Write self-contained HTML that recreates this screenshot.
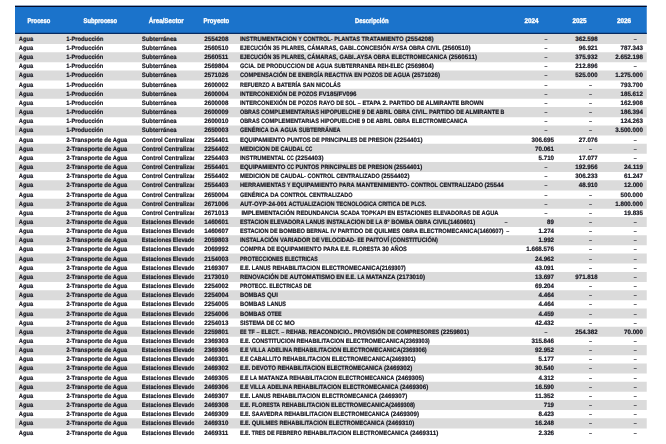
<!DOCTYPE html><html lang="es"><head><meta charset="utf-8"><title>Tabla</title><style>
html,body{margin:0;padding:0;background:#fff;}
body{width:666px;height:444px;position:relative;overflow:hidden;}
#g{position:absolute;left:0;top:0;width:666px;height:444px;overflow:hidden;background:#fff;filter:saturate(.5);}
.t{position:absolute;left:0;top:0;width:2664px;height:1776px;transform:scale(0.25);transform-origin:0 0;font-family:"Liberation Sans",sans-serif;font-weight:bold;font-size:25.2px;color:#121226;text-rendering:geometricPrecision;}
.hd{z-index:2;position:absolute;left:60px;top:23.2px;width:2527.2px;height:113.2px;background:#1b73cb;box-sizing:border-box;border-top:5.2px solid #020a28;border-bottom:5.2px solid #062a60;}
.h{position:absolute;top:0;height:100%;color:#fff;text-align:center;line-height:110.4px;white-space:nowrap;font-size:27.6px;}
.b{position:absolute;left:60px;width:2527.2px;height:40.22px;background:#dbdbdb;}
.r{position:absolute;left:60px;width:2527.2px;height:36.62px;}
.c{word-spacing:-0.88px;position:absolute;top:0;height:36.62px;line-height:36.62px;white-space:nowrap;overflow:hidden;}
.w{text-align:left;-webkit-text-stroke:0.68px;display:inline-block;white-space:pre;transform-origin:0 50%;position:relative;top:-0.2px;}
.h .w{top:0.8px;-webkit-text-stroke:1.4px;}
.w.ds{color:#3a3a46;-webkit-text-stroke:0.48px;}
.n{text-align:right;}
.m{text-align:center;}
.ov{overflow:visible;}
</style></head><body><div id="g"><div class="t">
<div class="b" style="top:135.4px"></div>
<div class="b" style="top:208.64px"></div>
<div class="b" style="top:281.88px"></div>
<div class="b" style="top:355.12px"></div>
<div class="b" style="top:428.36px"></div>
<div class="b" style="top:501.6px"></div>
<div class="b" style="top:574.84px"></div>
<div class="b" style="top:648.08px"></div>
<div class="b" style="top:721.32px"></div>
<div class="b" style="top:794.56px"></div>
<div class="b" style="top:867.8px"></div>
<div class="b" style="top:941.04px"></div>
<div class="b" style="top:1014.28px"></div>
<div class="b" style="top:1087.52px"></div>
<div class="b" style="top:1160.76px"></div>
<div class="b" style="top:1234px"></div>
<div class="b" style="top:1307.24px"></div>
<div class="b" style="top:1380.48px"></div>
<div class="b" style="top:1453.72px"></div>
<div class="b" style="top:1526.96px"></div>
<div class="b" style="top:1600.2px"></div>
<div class="b" style="top:1673.44px"></div>
<div class="r" style="top:137.2px">
<div class="c" style="left:14.8px;width:175.6px"><span class="w" style="width:57.3px;transform:scaleX(0.909)">Agua</span></div>
<div class="c" style="left:205.2px;width:286.8px"><span class="w" style="width:148.3px;transform:scaleX(0.921)">1-Producción</span></div>
<div class="c" style="left:506.8px;width:210px"><span class="w" style="width:139.3px;transform:scaleX(0.947)">Subterránea</span></div>
<div class="c m" style="left:718px;width:174px"><span class="w" style="width:96.2px;transform:scaleX(0.982)">2554208</span></div>
<div class="c ov" style="left:900px;width:1061.2px"><span class="w" style="width:226.8px;transform:scaleX(0.928)">INSTRUMENTACION</span> <span class="w" style="width:14.1px;transform:scaleX(0.839)">Y</span> <span class="w" style="width:117.3px;transform:scaleX(0.883)">CONTROL-</span> <span class="w" style="width:102.9px;transform:scaleX(0.878)">PLANTAS</span> <span class="w" style="width:168.8px;transform:scaleX(0.942)">TRATAMIENTO</span> <span class="w" style="width:113.2px;transform:scaleX(0.985)">(2554208)</span></div>
<div class="c n" style="left:1961.2px;width:169.4px"><span class="w ds" style="width:14px;transform:scaleX(1.659)">-</span></div>
<div class="c n" style="left:2171.6px;width:159.2px"><span class="w" style="width:89.7px;transform:scaleX(0.985)">362.598</span></div>
<div class="c n" style="left:2345.2px;width:142.6px"><span class="w ds" style="width:14px;transform:scaleX(1.659)">-</span></div>
</div>
<div class="r" style="top:173.82px">
<div class="c" style="left:14.8px;width:175.6px"><span class="w" style="width:57.3px;transform:scaleX(0.909)">Agua</span></div>
<div class="c" style="left:205.2px;width:286.8px"><span class="w" style="width:148.3px;transform:scaleX(0.921)">1-Producción</span></div>
<div class="c" style="left:506.8px;width:210px"><span class="w" style="width:139.3px;transform:scaleX(0.947)">Subterránea</span></div>
<div class="c m" style="left:718px;width:174px"><span class="w" style="width:96.2px;transform:scaleX(0.982)">2560510</span></div>
<div class="c ov" style="left:900px;width:1061.2px"><span class="w" style="width:125.3px;transform:scaleX(0.852)">EJECUCIÓN</span> <span class="w" style="width:27.5px;transform:scaleX(0.980)">35</span> <span class="w" style="width:97.9px;transform:scaleX(0.843)">PILARES,</span> <span class="w" style="width:122.4px;transform:scaleX(0.902)">CÁMARAS,</span> <span class="w" style="width:205.1px;transform:scaleX(0.893)">GABI..CONCESIÓN</span> <span class="w" style="width:59.8px;transform:scaleX(0.883)">AYSA</span> <span class="w" style="width:65.3px;transform:scaleX(0.880)">OBRA</span> <span class="w" style="width:56.3px;transform:scaleX(0.875)">CIVIL</span> <span class="w" style="width:113.2px;transform:scaleX(0.985)">(2560510)</span></div>
<div class="c n" style="left:1961.2px;width:169.4px"><span class="w ds" style="width:14px;transform:scaleX(1.659)">-</span></div>
<div class="c n" style="left:2171.6px;width:159.2px"><span class="w" style="width:76px;transform:scaleX(0.986)">96.921</span></div>
<div class="c n" style="left:2345.2px;width:166.8px"><span class="w" style="width:89.7px;transform:scaleX(0.985)">787.343</span></div>
</div>
<div class="r" style="top:210.44px">
<div class="c" style="left:14.8px;width:175.6px"><span class="w" style="width:57.3px;transform:scaleX(0.909)">Agua</span></div>
<div class="c" style="left:205.2px;width:286.8px"><span class="w" style="width:148.3px;transform:scaleX(0.921)">1-Producción</span></div>
<div class="c" style="left:506.8px;width:210px"><span class="w" style="width:139.3px;transform:scaleX(0.947)">Subterránea</span></div>
<div class="c m" style="left:718px;width:174px"><span class="w" style="width:96.2px;transform:scaleX(0.995)">2560511</span></div>
<div class="c ov" style="left:900px;width:1061.2px"><span class="w" style="width:125.3px;transform:scaleX(0.852)">EJECUCIÓN</span> <span class="w" style="width:27.5px;transform:scaleX(0.980)">35</span> <span class="w" style="width:97.9px;transform:scaleX(0.843)">PILARES,</span> <span class="w" style="width:122.4px;transform:scaleX(0.902)">CÁMARAS,</span> <span class="w" style="width:130.4px;transform:scaleX(0.902)">GABI..AYSA</span> <span class="w" style="width:65.3px;transform:scaleX(0.880)">OBRA</span> <span class="w" style="width:222.9px;transform:scaleX(0.870)">ELECTROMECANICA</span> <span class="w" style="width:113.2px;transform:scaleX(0.997)">(2560511)</span></div>
<div class="c n" style="left:1961.2px;width:169.4px"><span class="w ds" style="width:14px;transform:scaleX(1.659)">-</span></div>
<div class="c n" style="left:2171.6px;width:159.2px"><span class="w" style="width:89.7px;transform:scaleX(0.985)">375.932</span></div>
<div class="c n" style="left:2345.2px;width:166.8px"><span class="w" style="width:110.7px;transform:scaleX(0.988)">2.652.198</span></div>
</div>
<div class="r" style="top:247.06px">
<div class="c" style="left:14.8px;width:175.6px"><span class="w" style="width:57.3px;transform:scaleX(0.909)">Agua</span></div>
<div class="c" style="left:205.2px;width:286.8px"><span class="w" style="width:148.3px;transform:scaleX(0.921)">1-Producción</span></div>
<div class="c" style="left:506.8px;width:210px"><span class="w" style="width:139.3px;transform:scaleX(0.947)">Subterránea</span></div>
<div class="c m" style="left:718px;width:174px"><span class="w" style="width:96.2px;transform:scaleX(0.982)">2569804</span></div>
<div class="c ov" style="left:900px;width:1061.2px"><span class="w" style="width:62.5px;transform:scaleX(0.893)">GCIA.</span> <span class="w" style="width:30.3px;transform:scaleX(0.866)">DE</span> <span class="w" style="width:155px;transform:scaleX(0.900)">PRODUCCION</span> <span class="w" style="width:30.3px;transform:scaleX(0.866)">DE</span> <span class="w" style="width:67.9px;transform:scaleX(0.915)">AGUA</span> <span class="w" style="width:166.9px;transform:scaleX(0.864)">SUBTERRANEA</span> <span class="w" style="width:106.2px;transform:scaleX(0.825)">REH-ELEC</span> <span class="w" style="width:113.2px;transform:scaleX(0.985)">(2569804)</span></div>
<div class="c n" style="left:1961.2px;width:169.4px"><span class="w ds" style="width:14px;transform:scaleX(1.659)">-</span></div>
<div class="c n" style="left:2171.6px;width:159.2px"><span class="w" style="width:89.7px;transform:scaleX(0.985)">212.896</span></div>
<div class="c n" style="left:2345.2px;width:142.6px"><span class="w ds" style="width:14px;transform:scaleX(1.659)">-</span></div>
</div>
<div class="r" style="top:283.68px">
<div class="c" style="left:14.8px;width:175.6px"><span class="w" style="width:57.3px;transform:scaleX(0.909)">Agua</span></div>
<div class="c" style="left:205.2px;width:286.8px"><span class="w" style="width:148.3px;transform:scaleX(0.921)">1-Producción</span></div>
<div class="c" style="left:506.8px;width:210px"><span class="w" style="width:139.3px;transform:scaleX(0.947)">Subterránea</span></div>
<div class="c m" style="left:718px;width:174px"><span class="w" style="width:96.2px;transform:scaleX(0.982)">2571026</span></div>
<div class="c ov" style="left:900px;width:1061.2px"><span class="w" style="width:189px;transform:scaleX(0.906)">COMPENSACIÓN</span> <span class="w" style="width:30.3px;transform:scaleX(0.866)">DE</span> <span class="w" style="width:100.6px;transform:scaleX(0.876)">ENERGÍA</span> <span class="w" style="width:112.4px;transform:scaleX(0.886)">REACTIVA</span> <span class="w" style="width:31.1px;transform:scaleX(0.889)">EN</span> <span class="w" style="width:76.9px;transform:scaleX(0.872)">POZOS</span> <span class="w" style="width:30.3px;transform:scaleX(0.866)">DE</span> <span class="w" style="width:67.9px;transform:scaleX(0.915)">AGUA</span> <span class="w" style="width:113.2px;transform:scaleX(0.985)">(2571026)</span></div>
<div class="c n" style="left:1961.2px;width:169.4px"><span class="w ds" style="width:14px;transform:scaleX(1.659)">-</span></div>
<div class="c n" style="left:2171.6px;width:159.2px"><span class="w" style="width:89.7px;transform:scaleX(0.985)">525.000</span></div>
<div class="c n" style="left:2345.2px;width:166.8px"><span class="w" style="width:110.7px;transform:scaleX(0.988)">1.275.000</span></div>
</div>
<div class="r" style="top:320.3px">
<div class="c" style="left:14.8px;width:175.6px"><span class="w" style="width:57.3px;transform:scaleX(0.909)">Agua</span></div>
<div class="c" style="left:205.2px;width:286.8px"><span class="w" style="width:148.3px;transform:scaleX(0.921)">1-Producción</span></div>
<div class="c" style="left:506.8px;width:210px"><span class="w" style="width:139.3px;transform:scaleX(0.947)">Subterránea</span></div>
<div class="c m" style="left:718px;width:174px"><span class="w" style="width:96.2px;transform:scaleX(0.982)">2600002</span></div>
<div class="c ov" style="left:900px;width:1061.2px"><span class="w" style="width:118.5px;transform:scaleX(0.855)">REFUERZO</span> <span class="w" style="width:16.4px;transform:scaleX(0.901)">A</span> <span class="w" style="width:97.3px;transform:scaleX(0.883)">BATERÍA</span> <span class="w" style="width:47.1px;transform:scaleX(0.886)">SAN</span> <span class="w" style="width:98.5px;transform:scaleX(0.869)">NICOLÁS</span></div>
<div class="c n" style="left:1961.2px;width:169.4px"><span class="w ds" style="width:14px;transform:scaleX(1.659)">-</span></div>
<div class="c n" style="left:2171.6px;width:137.8px"><span class="w ds" style="width:14px;transform:scaleX(1.659)">-</span></div>
<div class="c n" style="left:2345.2px;width:166.8px"><span class="w" style="width:89.7px;transform:scaleX(0.985)">793.700</span></div>
</div>
<div class="r" style="top:356.92px">
<div class="c" style="left:14.8px;width:175.6px"><span class="w" style="width:57.3px;transform:scaleX(0.909)">Agua</span></div>
<div class="c" style="left:205.2px;width:286.8px"><span class="w" style="width:148.3px;transform:scaleX(0.921)">1-Producción</span></div>
<div class="c" style="left:506.8px;width:210px"><span class="w" style="width:139.3px;transform:scaleX(0.947)">Subterránea</span></div>
<div class="c m" style="left:718px;width:174px"><span class="w" style="width:96.2px;transform:scaleX(0.982)">2600004</span></div>
<div class="c ov" style="left:900px;width:1061.2px"><span class="w" style="width:189.2px;transform:scaleX(0.901)">INTERCONEXIÓN</span> <span class="w" style="width:30.3px;transform:scaleX(0.866)">DE</span> <span class="w" style="width:76.9px;transform:scaleX(0.872)">POZOS</span> <span class="w" style="width:151.1px;transform:scaleX(0.972)">FV185/FV096</span></div>
<div class="c n" style="left:1961.2px;width:169.4px"><span class="w ds" style="width:14px;transform:scaleX(1.659)">-</span></div>
<div class="c n" style="left:2171.6px;width:137.8px"><span class="w ds" style="width:14px;transform:scaleX(1.659)">-</span></div>
<div class="c n" style="left:2345.2px;width:166.8px"><span class="w" style="width:89.7px;transform:scaleX(0.985)">185.612</span></div>
</div>
<div class="r" style="top:393.54px">
<div class="c" style="left:14.8px;width:175.6px"><span class="w" style="width:57.3px;transform:scaleX(0.909)">Agua</span></div>
<div class="c" style="left:205.2px;width:286.8px"><span class="w" style="width:148.3px;transform:scaleX(0.921)">1-Producción</span></div>
<div class="c" style="left:506.8px;width:210px"><span class="w" style="width:139.3px;transform:scaleX(0.947)">Subterránea</span></div>
<div class="c m" style="left:718px;width:174px"><span class="w" style="width:96.2px;transform:scaleX(0.982)">2600008</span></div>
<div class="c ov" style="left:900px;width:1061.2px"><span class="w" style="width:189.2px;transform:scaleX(0.901)">INTERCONEXIÓN</span> <span class="w" style="width:30.3px;transform:scaleX(0.866)">DE</span> <span class="w" style="width:76.9px;transform:scaleX(0.872)">POZOS</span> <span class="w" style="width:64.1px;transform:scaleX(0.910)">RAYO</span> <span class="w" style="width:30.3px;transform:scaleX(0.866)">DE</span> <span class="w" style="width:42.6px;transform:scaleX(0.823)">SOL</span> <span class="w ds" style="width:14px;transform:scaleX(1.659)">-</span> <span class="w" style="width:74px;transform:scaleX(0.906)">ETAPA</span> <span class="w" style="width:21px;transform:scaleX(0.997)">2.</span> <span class="w" style="width:102.2px;transform:scaleX(0.917)">PARTIDO</span> <span class="w" style="width:30.3px;transform:scaleX(0.866)">DE</span> <span class="w" style="width:135.1px;transform:scaleX(0.911)">ALMIRANTE</span> <span class="w" style="width:91.3px;transform:scaleX(0.932)">BROWN</span></div>
<div class="c n" style="left:1961.2px;width:169.4px"><span class="w ds" style="width:14px;transform:scaleX(1.659)">-</span></div>
<div class="c n" style="left:2171.6px;width:137.8px"><span class="w ds" style="width:14px;transform:scaleX(1.659)">-</span></div>
<div class="c n" style="left:2345.2px;width:166.8px"><span class="w" style="width:89.7px;transform:scaleX(0.985)">162.908</span></div>
</div>
<div class="r" style="top:430.16px">
<div class="c" style="left:14.8px;width:175.6px"><span class="w" style="width:57.3px;transform:scaleX(0.909)">Agua</span></div>
<div class="c" style="left:205.2px;width:286.8px"><span class="w" style="width:148.3px;transform:scaleX(0.921)">1-Producción</span></div>
<div class="c" style="left:506.8px;width:210px"><span class="w" style="width:139.3px;transform:scaleX(0.947)">Subterránea</span></div>
<div class="c m" style="left:718px;width:174px"><span class="w" style="width:96.2px;transform:scaleX(0.982)">2600009</span></div>
<div class="c ov" style="left:900px;width:1061.2px"><span class="w" style="width:78.1px;transform:scaleX(0.858)">OBRAS</span> <span class="w" style="width:232px;transform:scaleX(0.907)">COMPLEMENTARIAS</span> <span class="w" style="width:158.7px;transform:scaleX(0.872)">HIPOPUELCHE</span> <span class="w" style="width:13.7px;transform:scaleX(0.978)">9</span> <span class="w" style="width:30.3px;transform:scaleX(0.866)">DE</span> <span class="w" style="width:65.6px;transform:scaleX(0.852)">ABRIL</span> <span class="w" style="width:65.3px;transform:scaleX(0.880)">OBRA</span> <span class="w" style="width:63.6px;transform:scaleX(0.891)">CIVIL.</span> <span class="w" style="width:102.2px;transform:scaleX(0.917)">PARTIDO</span> <span class="w" style="width:30.3px;transform:scaleX(0.866)">DE</span> <span class="w" style="width:135.1px;transform:scaleX(0.911)">ALMIRANTE</span> <span class="w" style="width:15.2px;transform:scaleX(0.834)">B</span></div>
<div class="c n" style="left:1961.2px;width:169.4px"><span class="w ds" style="width:14px;transform:scaleX(1.659)">-</span></div>
<div class="c n" style="left:2171.6px;width:137.8px"><span class="w ds" style="width:14px;transform:scaleX(1.659)">-</span></div>
<div class="c n" style="left:2345.2px;width:166.8px"><span class="w" style="width:89.7px;transform:scaleX(0.985)">186.394</span></div>
</div>
<div class="r" style="top:466.78px">
<div class="c" style="left:14.8px;width:175.6px"><span class="w" style="width:57.3px;transform:scaleX(0.909)">Agua</span></div>
<div class="c" style="left:205.2px;width:286.8px"><span class="w" style="width:148.3px;transform:scaleX(0.921)">1-Producción</span></div>
<div class="c" style="left:506.8px;width:210px"><span class="w" style="width:139.3px;transform:scaleX(0.947)">Subterránea</span></div>
<div class="c m" style="left:718px;width:174px"><span class="w" style="width:96.2px;transform:scaleX(0.982)">2600010</span></div>
<div class="c ov" style="left:900px;width:1061.2px"><span class="w" style="width:78.1px;transform:scaleX(0.858)">OBRAS</span> <span class="w" style="width:232px;transform:scaleX(0.907)">COMPLEMENTARIAS</span> <span class="w" style="width:158.7px;transform:scaleX(0.872)">HIPOPUELCHE</span> <span class="w" style="width:13.7px;transform:scaleX(0.978)">9</span> <span class="w" style="width:30.3px;transform:scaleX(0.866)">DE</span> <span class="w" style="width:65.6px;transform:scaleX(0.852)">ABRIL</span> <span class="w" style="width:65.3px;transform:scaleX(0.880)">OBRA</span> <span class="w" style="width:222.9px;transform:scaleX(0.870)">ELECTROMECANICA</span></div>
<div class="c n" style="left:1961.2px;width:169.4px"><span class="w ds" style="width:14px;transform:scaleX(1.659)">-</span></div>
<div class="c n" style="left:2171.6px;width:137.8px"><span class="w ds" style="width:14px;transform:scaleX(1.659)">-</span></div>
<div class="c n" style="left:2345.2px;width:166.8px"><span class="w" style="width:89.7px;transform:scaleX(0.985)">124.263</span></div>
</div>
<div class="r" style="top:503.4px">
<div class="c" style="left:14.8px;width:175.6px"><span class="w" style="width:57.3px;transform:scaleX(0.909)">Agua</span></div>
<div class="c" style="left:205.2px;width:286.8px"><span class="w" style="width:148.3px;transform:scaleX(0.921)">1-Producción</span></div>
<div class="c" style="left:506.8px;width:210px"><span class="w" style="width:139.3px;transform:scaleX(0.947)">Subterránea</span></div>
<div class="c m" style="left:718px;width:174px"><span class="w" style="width:96.2px;transform:scaleX(0.982)">2650003</span></div>
<div class="c ov" style="left:900px;width:1061.2px"><span class="w" style="width:114.9px;transform:scaleX(0.864)">GENÉRICA</span> <span class="w" style="width:33.5px;transform:scaleX(0.920)">DA</span> <span class="w" style="width:67.9px;transform:scaleX(0.915)">AGUA</span> <span class="w" style="width:166.9px;transform:scaleX(0.864)">SUBTERRÁNEA</span></div>
<div class="c n" style="left:1961.2px;width:169.4px"><span class="w ds" style="width:14px;transform:scaleX(1.659)">-</span></div>
<div class="c n" style="left:2171.6px;width:137.8px"><span class="w ds" style="width:14px;transform:scaleX(1.659)">-</span></div>
<div class="c n" style="left:2345.2px;width:166.8px"><span class="w" style="width:110.7px;transform:scaleX(0.988)">3.500.000</span></div>
</div>
<div class="r" style="top:540.02px">
<div class="c" style="left:14.8px;width:175.6px"><span class="w" style="width:57.3px;transform:scaleX(0.909)">Agua</span></div>
<div class="c" style="left:205.2px;width:286.8px"><span class="w" style="width:145.7px;transform:scaleX(0.955)">2-Transporte</span> <span class="w" style="width:28.2px;transform:scaleX(0.958)">de</span> <span class="w" style="width:57.3px;transform:scaleX(0.909)">Agua</span></div>
<div class="c" style="left:506.8px;width:210px"><span class="w" style="width:83.8px;transform:scaleX(0.936)">Control</span> <span class="w" style="width:141.6px;transform:scaleX(0.937)">Centralizado</span></div>
<div class="c m" style="left:718px;width:174px"><span class="w" style="width:96.2px;transform:scaleX(0.982)">2254401</span></div>
<div class="c ov" style="left:900px;width:1061.2px"><span class="w" style="width:181.5px;transform:scaleX(0.944)">EQUIPAMIENTO</span> <span class="w" style="width:94.6px;transform:scaleX(0.905)">PUNTOS</span> <span class="w" style="width:30.3px;transform:scaleX(0.866)">DE</span> <span class="w" style="width:144.8px;transform:scaleX(0.864)">PRINCIPALES</span> <span class="w" style="width:30.3px;transform:scaleX(0.866)">DE</span> <span class="w" style="width:99.2px;transform:scaleX(0.875)">PRESION</span> <span class="w" style="width:113.2px;transform:scaleX(0.985)">(2254401)</span></div>
<div class="c n" style="left:1961.2px;width:194.8px"><span class="w" style="width:89.7px;transform:scaleX(0.985)">306.695</span></div>
<div class="c n" style="left:2171.6px;width:159.2px"><span class="w" style="width:76px;transform:scaleX(0.986)">27.076</span></div>
<div class="c n" style="left:2345.2px;width:142.6px"><span class="w ds" style="width:14px;transform:scaleX(1.659)">-</span></div>
</div>
<div class="r" style="top:576.64px">
<div class="c" style="left:14.8px;width:175.6px"><span class="w" style="width:57.3px;transform:scaleX(0.909)">Agua</span></div>
<div class="c" style="left:205.2px;width:286.8px"><span class="w" style="width:145.7px;transform:scaleX(0.955)">2-Transporte</span> <span class="w" style="width:28.2px;transform:scaleX(0.958)">de</span> <span class="w" style="width:57.3px;transform:scaleX(0.909)">Agua</span></div>
<div class="c" style="left:506.8px;width:210px"><span class="w" style="width:83.8px;transform:scaleX(0.936)">Control</span> <span class="w" style="width:141.6px;transform:scaleX(0.937)">Centralizado</span></div>
<div class="c m" style="left:718px;width:174px"><span class="w" style="width:96.2px;transform:scaleX(0.982)">2254402</span></div>
<div class="c ov" style="left:900px;width:1061.2px"><span class="w" style="width:119.1px;transform:scaleX(0.945)">MEDICION</span> <span class="w" style="width:30.3px;transform:scaleX(0.866)">DE</span> <span class="w" style="width:93.5px;transform:scaleX(0.879)">CAUDAL</span> <span class="w" style="width:28.7px;transform:scaleX(0.787)">CC</span></div>
<div class="c n" style="left:1961.2px;width:194.8px"><span class="w" style="width:76px;transform:scaleX(0.986)">70.061</span></div>
<div class="c n" style="left:2171.6px;width:137.8px"><span class="w ds" style="width:14px;transform:scaleX(1.659)">-</span></div>
<div class="c n" style="left:2345.2px;width:142.6px"><span class="w ds" style="width:14px;transform:scaleX(1.659)">-</span></div>
</div>
<div class="r" style="top:613.26px">
<div class="c" style="left:14.8px;width:175.6px"><span class="w" style="width:57.3px;transform:scaleX(0.909)">Agua</span></div>
<div class="c" style="left:205.2px;width:286.8px"><span class="w" style="width:145.7px;transform:scaleX(0.955)">2-Transporte</span> <span class="w" style="width:28.2px;transform:scaleX(0.958)">de</span> <span class="w" style="width:57.3px;transform:scaleX(0.909)">Agua</span></div>
<div class="c" style="left:506.8px;width:210px"><span class="w" style="width:83.8px;transform:scaleX(0.936)">Control</span> <span class="w" style="width:141.6px;transform:scaleX(0.937)">Centralizado</span></div>
<div class="c m" style="left:718px;width:174px"><span class="w" style="width:96.2px;transform:scaleX(0.982)">2254403</span></div>
<div class="c ov" style="left:900px;width:1061.2px"><span class="w" style="width:180.5px;transform:scaleX(0.917)">INSTRUMENTAL</span> <span class="w" style="width:28.7px;transform:scaleX(0.787)">CC</span> <span class="w" style="width:113.2px;transform:scaleX(0.985)">(2254403)</span></div>
<div class="c n" style="left:1961.2px;width:194.8px"><span class="w" style="width:62.2px;transform:scaleX(0.987)">5.710</span></div>
<div class="c n" style="left:2171.6px;width:159.2px"><span class="w" style="width:76px;transform:scaleX(0.986)">17.077</span></div>
<div class="c n" style="left:2345.2px;width:142.6px"><span class="w ds" style="width:14px;transform:scaleX(1.659)">-</span></div>
</div>
<div class="r" style="top:649.88px">
<div class="c" style="left:14.8px;width:175.6px"><span class="w" style="width:57.3px;transform:scaleX(0.909)">Agua</span></div>
<div class="c" style="left:205.2px;width:286.8px"><span class="w" style="width:145.7px;transform:scaleX(0.955)">2-Transporte</span> <span class="w" style="width:28.2px;transform:scaleX(0.958)">de</span> <span class="w" style="width:57.3px;transform:scaleX(0.909)">Agua</span></div>
<div class="c" style="left:506.8px;width:210px"><span class="w" style="width:83.8px;transform:scaleX(0.936)">Control</span> <span class="w" style="width:141.6px;transform:scaleX(0.937)">Centralizado</span></div>
<div class="c m" style="left:718px;width:174px"><span class="w" style="width:96.2px;transform:scaleX(0.982)">2554401</span></div>
<div class="c ov" style="left:900px;width:1061.2px"><span class="w" style="width:181.5px;transform:scaleX(0.944)">EQUIPAMIENTO</span> <span class="w" style="width:28.7px;transform:scaleX(0.787)">CC</span> <span class="w" style="width:94.6px;transform:scaleX(0.905)">PUNTOS</span> <span class="w" style="width:144.8px;transform:scaleX(0.864)">PRINCIPALES</span> <span class="w" style="width:30.3px;transform:scaleX(0.866)">DE</span> <span class="w" style="width:99.2px;transform:scaleX(0.875)">PRESION</span> <span class="w" style="width:113.2px;transform:scaleX(0.985)">(2554401)</span></div>
<div class="c n" style="left:1961.2px;width:169.4px"><span class="w ds" style="width:14px;transform:scaleX(1.659)">-</span></div>
<div class="c n" style="left:2171.6px;width:159.2px"><span class="w" style="width:89.7px;transform:scaleX(0.985)">192.956</span></div>
<div class="c n" style="left:2345.2px;width:166.8px"><span class="w" style="width:76px;transform:scaleX(1.004)">24.119</span></div>
</div>
<div class="r" style="top:686.5px">
<div class="c" style="left:14.8px;width:175.6px"><span class="w" style="width:57.3px;transform:scaleX(0.909)">Agua</span></div>
<div class="c" style="left:205.2px;width:286.8px"><span class="w" style="width:145.7px;transform:scaleX(0.955)">2-Transporte</span> <span class="w" style="width:28.2px;transform:scaleX(0.958)">de</span> <span class="w" style="width:57.3px;transform:scaleX(0.909)">Agua</span></div>
<div class="c" style="left:506.8px;width:210px"><span class="w" style="width:83.8px;transform:scaleX(0.936)">Control</span> <span class="w" style="width:141.6px;transform:scaleX(0.937)">Centralizado</span></div>
<div class="c m" style="left:718px;width:174px"><span class="w" style="width:96.2px;transform:scaleX(0.982)">2554402</span></div>
<div class="c ov" style="left:900px;width:1061.2px"><span class="w" style="width:119.1px;transform:scaleX(0.945)">MEDICION</span> <span class="w" style="width:30.3px;transform:scaleX(0.866)">DE</span> <span class="w" style="width:101.8px;transform:scaleX(0.887)">CAUDAL-</span> <span class="w" style="width:109px;transform:scaleX(0.875)">CONTROL</span> <span class="w" style="width:174.1px;transform:scaleX(0.876)">CENTRALIZADO</span> <span class="w" style="width:113.2px;transform:scaleX(0.985)">(2554402)</span></div>
<div class="c n" style="left:1961.2px;width:169.4px"><span class="w ds" style="width:14px;transform:scaleX(1.659)">-</span></div>
<div class="c n" style="left:2171.6px;width:159.2px"><span class="w" style="width:89.7px;transform:scaleX(0.985)">306.233</span></div>
<div class="c n" style="left:2345.2px;width:166.8px"><span class="w" style="width:76px;transform:scaleX(0.986)">61.247</span></div>
</div>
<div class="r" style="top:723.12px">
<div class="c" style="left:14.8px;width:175.6px"><span class="w" style="width:57.3px;transform:scaleX(0.909)">Agua</span></div>
<div class="c" style="left:205.2px;width:286.8px"><span class="w" style="width:145.7px;transform:scaleX(0.955)">2-Transporte</span> <span class="w" style="width:28.2px;transform:scaleX(0.958)">de</span> <span class="w" style="width:57.3px;transform:scaleX(0.909)">Agua</span></div>
<div class="c" style="left:506.8px;width:210px"><span class="w" style="width:83.8px;transform:scaleX(0.936)">Control</span> <span class="w" style="width:141.6px;transform:scaleX(0.937)">Centralizado</span></div>
<div class="c m" style="left:718px;width:174px"><span class="w" style="width:96.2px;transform:scaleX(0.982)">2554403</span></div>
<div class="c ov" style="left:900px;width:1061.2px"><span class="w" style="width:182.1px;transform:scaleX(0.905)">HERRAMIENTAS</span> <span class="w" style="width:14.1px;transform:scaleX(0.839)">Y</span> <span class="w" style="width:181.5px;transform:scaleX(0.944)">EQUIPAMIENTO</span> <span class="w" style="width:62.6px;transform:scaleX(0.900)">PARA</span> <span class="w" style="width:211.9px;transform:scaleX(0.960)">MANTENIMIENTO-</span> <span class="w" style="width:109px;transform:scaleX(0.875)">CONTROL</span> <span class="w" style="width:174.1px;transform:scaleX(0.876)">CENTRALIZADO</span> <span class="w" style="width:77.2px;transform:scaleX(0.984)">(25544</span></div>
<div class="c n" style="left:1961.2px;width:169.4px"><span class="w ds" style="width:14px;transform:scaleX(1.659)">-</span></div>
<div class="c n" style="left:2171.6px;width:159.2px"><span class="w" style="width:76px;transform:scaleX(0.986)">48.910</span></div>
<div class="c n" style="left:2345.2px;width:166.8px"><span class="w" style="width:76px;transform:scaleX(0.986)">12.000</span></div>
</div>
<div class="r" style="top:759.74px">
<div class="c" style="left:14.8px;width:175.6px"><span class="w" style="width:57.3px;transform:scaleX(0.909)">Agua</span></div>
<div class="c" style="left:205.2px;width:286.8px"><span class="w" style="width:145.7px;transform:scaleX(0.955)">2-Transporte</span> <span class="w" style="width:28.2px;transform:scaleX(0.958)">de</span> <span class="w" style="width:57.3px;transform:scaleX(0.909)">Agua</span></div>
<div class="c" style="left:506.8px;width:210px"><span class="w" style="width:83.8px;transform:scaleX(0.936)">Control</span> <span class="w" style="width:141.6px;transform:scaleX(0.937)">Centralizado</span></div>
<div class="c m" style="left:718px;width:174px"><span class="w" style="width:96.2px;transform:scaleX(0.982)">2650004</span></div>
<div class="c ov" style="left:900px;width:1061.2px"><span class="w" style="width:114.9px;transform:scaleX(0.864)">GENÉRICA</span> <span class="w" style="width:33.5px;transform:scaleX(0.920)">DA</span> <span class="w" style="width:109px;transform:scaleX(0.875)">CONTROL</span> <span class="w" style="width:174.1px;transform:scaleX(0.876)">CENTRALIZADO</span></div>
<div class="c n" style="left:1961.2px;width:169.4px"><span class="w ds" style="width:14px;transform:scaleX(1.659)">-</span></div>
<div class="c n" style="left:2171.6px;width:137.8px"><span class="w ds" style="width:14px;transform:scaleX(1.659)">-</span></div>
<div class="c n" style="left:2345.2px;width:166.8px"><span class="w" style="width:89.7px;transform:scaleX(0.985)">500.000</span></div>
</div>
<div class="r" style="top:796.36px">
<div class="c" style="left:14.8px;width:175.6px"><span class="w" style="width:57.3px;transform:scaleX(0.909)">Agua</span></div>
<div class="c" style="left:205.2px;width:286.8px"><span class="w" style="width:145.7px;transform:scaleX(0.955)">2-Transporte</span> <span class="w" style="width:28.2px;transform:scaleX(0.958)">de</span> <span class="w" style="width:57.3px;transform:scaleX(0.909)">Agua</span></div>
<div class="c" style="left:506.8px;width:210px"><span class="w" style="width:83.8px;transform:scaleX(0.936)">Control</span> <span class="w" style="width:141.6px;transform:scaleX(0.937)">Centralizado</span></div>
<div class="c m" style="left:718px;width:174px"><span class="w" style="width:96.2px;transform:scaleX(0.982)">2671006</span></div>
<div class="c ov" style="left:900px;width:1061.2px"><span class="w" style="width:188.1px;transform:scaleX(0.946)">AUT-OYP-24-001</span> <span class="w" style="width:184.3px;transform:scaleX(0.890)">ACTUALIZACION</span> <span class="w" style="width:162.3px;transform:scaleX(0.872)">TECNOLOGICA</span> <span class="w" style="width:88.3px;transform:scaleX(0.864)">CRITICA</span> <span class="w" style="width:30.3px;transform:scaleX(0.866)">DE</span> <span class="w" style="width:60.3px;transform:scaleX(0.813)">PLCS.</span></div>
<div class="c n" style="left:1961.2px;width:169.4px"><span class="w ds" style="width:14px;transform:scaleX(1.659)">-</span></div>
<div class="c n" style="left:2171.6px;width:137.8px"><span class="w ds" style="width:14px;transform:scaleX(1.659)">-</span></div>
<div class="c n" style="left:2345.2px;width:166.8px"><span class="w" style="width:110.7px;transform:scaleX(0.988)">1.800.000</span></div>
</div>
<div class="r" style="top:832.98px">
<div class="c" style="left:14.8px;width:175.6px"><span class="w" style="width:57.3px;transform:scaleX(0.909)">Agua</span></div>
<div class="c" style="left:205.2px;width:286.8px"><span class="w" style="width:145.7px;transform:scaleX(0.955)">2-Transporte</span> <span class="w" style="width:28.2px;transform:scaleX(0.958)">de</span> <span class="w" style="width:57.3px;transform:scaleX(0.909)">Agua</span></div>
<div class="c" style="left:506.8px;width:210px"><span class="w" style="width:83.8px;transform:scaleX(0.936)">Control</span> <span class="w" style="width:141.6px;transform:scaleX(0.937)">Centralizado</span></div>
<div class="c m" style="left:718px;width:174px"><span class="w" style="width:96.2px;transform:scaleX(0.982)">2671013</span></div>
<div class="c ov" style="left:900px;width:1061.2px"><span class="w" style="width:218.7px;transform:scaleX(0.932)"> IMPLEMENTACIÓN</span> <span class="w" style="width:170.6px;transform:scaleX(0.909)">REDUNDANCIA</span> <span class="w" style="width:77.1px;transform:scaleX(0.861)">SCADA</span> <span class="w" style="width:99.1px;transform:scaleX(0.889)">TOPKAPI</span> <span class="w" style="width:31.1px;transform:scaleX(0.889)">EN</span> <span class="w" style="width:139.8px;transform:scaleX(0.863)">ESTACIONES</span> <span class="w" style="width:150.4px;transform:scaleX(0.868)">ELEVADORAS</span> <span class="w" style="width:30.3px;transform:scaleX(0.866)">DE</span> <span class="w" style="width:67.9px;transform:scaleX(0.915)">AGUA</span></div>
<div class="c n" style="left:1961.2px;width:169.4px"><span class="w ds" style="width:14px;transform:scaleX(1.659)">-</span></div>
<div class="c n" style="left:2171.6px;width:137.8px"><span class="w ds" style="width:14px;transform:scaleX(1.659)">-</span></div>
<div class="c n" style="left:2345.2px;width:166.8px"><span class="w" style="width:76px;transform:scaleX(0.986)">19.835</span></div>
</div>
<div class="r" style="top:869.6px">
<div class="c" style="left:14.8px;width:175.6px"><span class="w" style="width:57.3px;transform:scaleX(0.909)">Agua</span></div>
<div class="c" style="left:205.2px;width:286.8px"><span class="w" style="width:145.7px;transform:scaleX(0.955)">2-Transporte</span> <span class="w" style="width:28.2px;transform:scaleX(0.958)">de</span> <span class="w" style="width:57.3px;transform:scaleX(0.909)">Agua</span></div>
<div class="c" style="left:506.8px;width:210px"><span class="w" style="width:118.5px;transform:scaleX(0.891)">Estaciones</span> <span class="w" style="width:122.8px;transform:scaleX(0.913)">Elevadoras</span></div>
<div class="c m" style="left:718px;width:174px"><span class="w" style="width:96.2px;transform:scaleX(0.982)">1460601</span></div>
<div class="c ov" style="left:900px;width:1061.2px"><span class="w" style="width:113.7px;transform:scaleX(0.886)">ESTACION</span> <span class="w" style="width:137.5px;transform:scaleX(0.880)">ELEVADORA</span> <span class="w" style="width:76.3px;transform:scaleX(0.879)">LANUS</span> <span class="w" style="width:153.5px;transform:scaleX(0.902)">INSTALACION</span> <span class="w" style="width:30.3px;transform:scaleX(0.866)">DE</span> <span class="w" style="width:27.9px;transform:scaleX(0.830)">LA</span> <span class="w" style="width:22.9px;transform:scaleX(0.951)">8°</span> <span class="w" style="width:88.9px;transform:scaleX(0.934)">BOMBA</span> <span class="w" style="width:65.3px;transform:scaleX(0.880)">OBRA</span> <span class="w" style="width:169.5px;transform:scaleX(0.946)">CIVIL(1460601)</span></div>
<div class="c" style="left:1957.2px;width:24px"><span class="w ds" style="width:14px;transform:scaleX(1.659)">-</span></div>
<div class="c n" style="left:1961.2px;width:194.8px"><span class="w" style="width:27.5px;transform:scaleX(0.980)">89</span></div>
<div class="c n" style="left:2171.6px;width:137.8px"><span class="w ds" style="width:14px;transform:scaleX(1.659)">-</span></div>
<div class="c n" style="left:2345.2px;width:142.6px"><span class="w ds" style="width:14px;transform:scaleX(1.659)">-</span></div>
</div>
<div class="r" style="top:906.22px">
<div class="c" style="left:14.8px;width:175.6px"><span class="w" style="width:57.3px;transform:scaleX(0.909)">Agua</span></div>
<div class="c" style="left:205.2px;width:286.8px"><span class="w" style="width:145.7px;transform:scaleX(0.955)">2-Transporte</span> <span class="w" style="width:28.2px;transform:scaleX(0.958)">de</span> <span class="w" style="width:57.3px;transform:scaleX(0.909)">Agua</span></div>
<div class="c" style="left:506.8px;width:210px"><span class="w" style="width:118.5px;transform:scaleX(0.891)">Estaciones</span> <span class="w" style="width:122.8px;transform:scaleX(0.913)">Elevadoras</span></div>
<div class="c m" style="left:718px;width:174px"><span class="w" style="width:96.2px;transform:scaleX(0.982)">1460607</span></div>
<div class="c ov" style="left:900px;width:1061.2px"><span class="w" style="width:113.7px;transform:scaleX(0.886)">ESTACION</span> <span class="w" style="width:30.3px;transform:scaleX(0.866)">DE</span> <span class="w" style="width:104px;transform:scaleX(0.918)">BOMBEO</span> <span class="w" style="width:89.5px;transform:scaleX(0.852)">BERNAL</span> <span class="w" style="width:23.3px;transform:scaleX(0.977)">IV</span> <span class="w" style="width:102.2px;transform:scaleX(0.917)">PARTIDO</span> <span class="w" style="width:30.3px;transform:scaleX(0.866)">DE</span> <span class="w" style="width:104.8px;transform:scaleX(0.913)">QUILMES</span> <span class="w" style="width:65.3px;transform:scaleX(0.880)">OBRA</span> <span class="w" style="width:336.1px;transform:scaleX(0.906)">ELECTROMECANICA(1460607)</span></div>
<div class="c" style="left:1963.6px;width:24px"><span class="w ds" style="width:14px;transform:scaleX(1.659)">-</span></div>
<div class="c n" style="left:1961.2px;width:194.8px"><span class="w" style="width:62.2px;transform:scaleX(0.987)">1.274</span></div>
<div class="c n" style="left:2171.6px;width:137.8px"><span class="w ds" style="width:14px;transform:scaleX(1.659)">-</span></div>
<div class="c n" style="left:2345.2px;width:142.6px"><span class="w ds" style="width:14px;transform:scaleX(1.659)">-</span></div>
</div>
<div class="r" style="top:942.84px">
<div class="c" style="left:14.8px;width:175.6px"><span class="w" style="width:57.3px;transform:scaleX(0.909)">Agua</span></div>
<div class="c" style="left:205.2px;width:286.8px"><span class="w" style="width:145.7px;transform:scaleX(0.955)">2-Transporte</span> <span class="w" style="width:28.2px;transform:scaleX(0.958)">de</span> <span class="w" style="width:57.3px;transform:scaleX(0.909)">Agua</span></div>
<div class="c" style="left:506.8px;width:210px"><span class="w" style="width:118.5px;transform:scaleX(0.891)">Estaciones</span> <span class="w" style="width:122.8px;transform:scaleX(0.913)">Elevadoras</span></div>
<div class="c m" style="left:718px;width:174px"><span class="w" style="width:96.2px;transform:scaleX(0.982)">2059803</span></div>
<div class="c ov" style="left:900px;width:1061.2px"><span class="w" style="width:153.5px;transform:scaleX(0.902)">INSTALACIÓN</span> <span class="w" style="width:122.1px;transform:scaleX(0.921)">VARIADOR</span> <span class="w" style="width:30.3px;transform:scaleX(0.866)">DE</span> <span class="w" style="width:139.6px;transform:scaleX(0.890)">VELOCIDAD-</span> <span class="w" style="width:26.5px;transform:scaleX(0.787)">EE</span> <span class="w" style="width:93.1px;transform:scaleX(0.946)">PAITOVÍ</span> <span class="w" style="width:189.9px;transform:scaleX(0.911)">(CONSTITUCIÓN)</span></div>
<div class="c n" style="left:1961.2px;width:194.8px"><span class="w" style="width:62.2px;transform:scaleX(0.987)">1.992</span></div>
<div class="c n" style="left:2171.6px;width:137.8px"><span class="w ds" style="width:14px;transform:scaleX(1.659)">-</span></div>
<div class="c n" style="left:2345.2px;width:142.6px"><span class="w ds" style="width:14px;transform:scaleX(1.659)">-</span></div>
</div>
<div class="r" style="top:979.46px">
<div class="c" style="left:14.8px;width:175.6px"><span class="w" style="width:57.3px;transform:scaleX(0.909)">Agua</span></div>
<div class="c" style="left:205.2px;width:286.8px"><span class="w" style="width:145.7px;transform:scaleX(0.955)">2-Transporte</span> <span class="w" style="width:28.2px;transform:scaleX(0.958)">de</span> <span class="w" style="width:57.3px;transform:scaleX(0.909)">Agua</span></div>
<div class="c" style="left:506.8px;width:210px"><span class="w" style="width:118.5px;transform:scaleX(0.891)">Estaciones</span> <span class="w" style="width:122.8px;transform:scaleX(0.913)">Elevadoras</span></div>
<div class="c m" style="left:718px;width:174px"><span class="w" style="width:96.2px;transform:scaleX(0.982)">2069992</span></div>
<div class="c ov" style="left:900px;width:1061.2px"><span class="w" style="width:102.5px;transform:scaleX(0.915)">COMPRA</span> <span class="w" style="width:30.3px;transform:scaleX(0.866)">DE</span> <span class="w" style="width:181.5px;transform:scaleX(0.944)">EQUIPAMIENTO</span> <span class="w" style="width:62.6px;transform:scaleX(0.900)">PARA</span> <span class="w" style="width:41px;transform:scaleX(0.860)">E.E.</span> <span class="w" style="width:113.4px;transform:scaleX(0.847)">FLORESTA</span> <span class="w" style="width:27.5px;transform:scaleX(0.980)">30</span> <span class="w" style="width:65.5px;transform:scaleX(0.899)">AÑOS</span></div>
<div class="c n" style="left:1961.2px;width:194.8px"><span class="w" style="width:110.7px;transform:scaleX(0.988)">1.668.576</span></div>
<div class="c n" style="left:2171.6px;width:137.8px"><span class="w ds" style="width:14px;transform:scaleX(1.659)">-</span></div>
<div class="c n" style="left:2345.2px;width:142.6px"><span class="w ds" style="width:14px;transform:scaleX(1.659)">-</span></div>
</div>
<div class="r" style="top:1016.08px">
<div class="c" style="left:14.8px;width:175.6px"><span class="w" style="width:57.3px;transform:scaleX(0.909)">Agua</span></div>
<div class="c" style="left:205.2px;width:286.8px"><span class="w" style="width:145.7px;transform:scaleX(0.955)">2-Transporte</span> <span class="w" style="width:28.2px;transform:scaleX(0.958)">de</span> <span class="w" style="width:57.3px;transform:scaleX(0.909)">Agua</span></div>
<div class="c" style="left:506.8px;width:210px"><span class="w" style="width:118.5px;transform:scaleX(0.891)">Estaciones</span> <span class="w" style="width:122.8px;transform:scaleX(0.913)">Elevadoras</span></div>
<div class="c m" style="left:718px;width:174px"><span class="w" style="width:96.2px;transform:scaleX(0.982)">2154003</span></div>
<div class="c ov" style="left:900px;width:1061.2px"><span class="w" style="width:172.9px;transform:scaleX(0.858)">PROTECCIONES</span> <span class="w" style="width:131.8px;transform:scaleX(0.819)">ELECTRICAS</span></div>
<div class="c n" style="left:1961.2px;width:194.8px"><span class="w" style="width:76px;transform:scaleX(0.986)">24.962</span></div>
<div class="c n" style="left:2171.6px;width:137.8px"><span class="w ds" style="width:14px;transform:scaleX(1.659)">-</span></div>
<div class="c n" style="left:2345.2px;width:142.6px"><span class="w ds" style="width:14px;transform:scaleX(1.659)">-</span></div>
</div>
<div class="r" style="top:1052.7px">
<div class="c" style="left:14.8px;width:175.6px"><span class="w" style="width:57.3px;transform:scaleX(0.909)">Agua</span></div>
<div class="c" style="left:205.2px;width:286.8px"><span class="w" style="width:145.7px;transform:scaleX(0.955)">2-Transporte</span> <span class="w" style="width:28.2px;transform:scaleX(0.958)">de</span> <span class="w" style="width:57.3px;transform:scaleX(0.909)">Agua</span></div>
<div class="c" style="left:506.8px;width:210px"><span class="w" style="width:118.5px;transform:scaleX(0.891)">Estaciones</span> <span class="w" style="width:122.8px;transform:scaleX(0.913)">Elevadoras</span></div>
<div class="c m" style="left:718px;width:174px"><span class="w" style="width:96.2px;transform:scaleX(0.982)">2169307</span></div>
<div class="c ov" style="left:900px;width:1061.2px"><span class="w" style="width:41px;transform:scaleX(0.860)">E.E.</span> <span class="w" style="width:76.3px;transform:scaleX(0.879)">LANUS</span> <span class="w" style="width:190.9px;transform:scaleX(0.893)">REHABILITACION</span> <span class="w" style="width:336.1px;transform:scaleX(0.906)">ELECTROMECANICA(2169307)</span></div>
<div class="c n" style="left:1961.2px;width:194.8px"><span class="w" style="width:76px;transform:scaleX(0.986)">43.091</span></div>
<div class="c n" style="left:2171.6px;width:137.8px"><span class="w ds" style="width:14px;transform:scaleX(1.659)">-</span></div>
<div class="c n" style="left:2345.2px;width:142.6px"><span class="w ds" style="width:14px;transform:scaleX(1.659)">-</span></div>
</div>
<div class="r" style="top:1089.32px">
<div class="c" style="left:14.8px;width:175.6px"><span class="w" style="width:57.3px;transform:scaleX(0.909)">Agua</span></div>
<div class="c" style="left:205.2px;width:286.8px"><span class="w" style="width:145.7px;transform:scaleX(0.955)">2-Transporte</span> <span class="w" style="width:28.2px;transform:scaleX(0.958)">de</span> <span class="w" style="width:57.3px;transform:scaleX(0.909)">Agua</span></div>
<div class="c" style="left:506.8px;width:210px"><span class="w" style="width:118.5px;transform:scaleX(0.891)">Estaciones</span> <span class="w" style="width:122.8px;transform:scaleX(0.913)">Elevadoras</span></div>
<div class="c m" style="left:718px;width:174px"><span class="w" style="width:96.2px;transform:scaleX(0.982)">2173010</span></div>
<div class="c ov" style="left:900px;width:1061.2px"><span class="w" style="width:155px;transform:scaleX(0.918)">RENOVACIÓN</span> <span class="w" style="width:30.3px;transform:scaleX(0.866)">DE</span> <span class="w" style="width:181.6px;transform:scaleX(0.966)">AUTOMATISMO</span> <span class="w" style="width:31.1px;transform:scaleX(0.889)">EN</span> <span class="w" style="width:41px;transform:scaleX(0.860)">E.E.</span> <span class="w" style="width:27.9px;transform:scaleX(0.830)">LA</span> <span class="w" style="width:117.3px;transform:scaleX(0.971)">MATANZA</span> <span class="w" style="width:113.2px;transform:scaleX(0.985)">(2173010)</span></div>
<div class="c n" style="left:1961.2px;width:194.8px"><span class="w" style="width:76px;transform:scaleX(0.986)">13.697</span></div>
<div class="c n" style="left:2171.6px;width:159.2px"><span class="w" style="width:89.7px;transform:scaleX(0.985)">971.818</span></div>
<div class="c n" style="left:2345.2px;width:142.6px"><span class="w ds" style="width:14px;transform:scaleX(1.659)">-</span></div>
</div>
<div class="r" style="top:1125.94px">
<div class="c" style="left:14.8px;width:175.6px"><span class="w" style="width:57.3px;transform:scaleX(0.909)">Agua</span></div>
<div class="c" style="left:205.2px;width:286.8px"><span class="w" style="width:145.7px;transform:scaleX(0.955)">2-Transporte</span> <span class="w" style="width:28.2px;transform:scaleX(0.958)">de</span> <span class="w" style="width:57.3px;transform:scaleX(0.909)">Agua</span></div>
<div class="c" style="left:506.8px;width:210px"><span class="w" style="width:118.5px;transform:scaleX(0.891)">Estaciones</span> <span class="w" style="width:122.8px;transform:scaleX(0.913)">Elevadoras</span></div>
<div class="c m" style="left:718px;width:174px"><span class="w" style="width:96.2px;transform:scaleX(0.982)">2254002</span></div>
<div class="c ov" style="left:900px;width:1061.2px"><span class="w" style="width:110.6px;transform:scaleX(0.850)">PROTECC.</span> <span class="w" style="width:131.8px;transform:scaleX(0.819)">ELECTRICAS</span> <span class="w" style="width:30.3px;transform:scaleX(0.866)">DE</span></div>
<div class="c n" style="left:1961.2px;width:194.8px"><span class="w" style="width:76px;transform:scaleX(0.986)">69.204</span></div>
<div class="c n" style="left:2171.6px;width:137.8px"><span class="w ds" style="width:14px;transform:scaleX(1.659)">-</span></div>
<div class="c n" style="left:2345.2px;width:142.6px"><span class="w ds" style="width:14px;transform:scaleX(1.659)">-</span></div>
</div>
<div class="r" style="top:1162.56px">
<div class="c" style="left:14.8px;width:175.6px"><span class="w" style="width:57.3px;transform:scaleX(0.909)">Agua</span></div>
<div class="c" style="left:205.2px;width:286.8px"><span class="w" style="width:145.7px;transform:scaleX(0.955)">2-Transporte</span> <span class="w" style="width:28.2px;transform:scaleX(0.958)">de</span> <span class="w" style="width:57.3px;transform:scaleX(0.909)">Agua</span></div>
<div class="c" style="left:506.8px;width:210px"><span class="w" style="width:118.5px;transform:scaleX(0.891)">Estaciones</span> <span class="w" style="width:122.8px;transform:scaleX(0.913)">Elevadoras</span></div>
<div class="c m" style="left:718px;width:174px"><span class="w" style="width:96.2px;transform:scaleX(0.982)">2254004</span></div>
<div class="c ov" style="left:900px;width:1061.2px"><span class="w" style="width:101.7px;transform:scaleX(0.908)">BOMBAS</span> <span class="w" style="width:43.6px;transform:scaleX(0.972)">QUI</span></div>
<div class="c n" style="left:1961.2px;width:194.8px"><span class="w" style="width:62.2px;transform:scaleX(0.987)">4.464</span></div>
<div class="c n" style="left:2171.6px;width:137.8px"><span class="w ds" style="width:14px;transform:scaleX(1.659)">-</span></div>
<div class="c n" style="left:2345.2px;width:142.6px"><span class="w ds" style="width:14px;transform:scaleX(1.659)">-</span></div>
</div>
<div class="r" style="top:1199.18px">
<div class="c" style="left:14.8px;width:175.6px"><span class="w" style="width:57.3px;transform:scaleX(0.909)">Agua</span></div>
<div class="c" style="left:205.2px;width:286.8px"><span class="w" style="width:145.7px;transform:scaleX(0.955)">2-Transporte</span> <span class="w" style="width:28.2px;transform:scaleX(0.958)">de</span> <span class="w" style="width:57.3px;transform:scaleX(0.909)">Agua</span></div>
<div class="c" style="left:506.8px;width:210px"><span class="w" style="width:118.5px;transform:scaleX(0.891)">Estaciones</span> <span class="w" style="width:122.8px;transform:scaleX(0.913)">Elevadoras</span></div>
<div class="c m" style="left:718px;width:174px"><span class="w" style="width:96.2px;transform:scaleX(0.982)">2254005</span></div>
<div class="c ov" style="left:900px;width:1061.2px"><span class="w" style="width:101.7px;transform:scaleX(0.908)">BOMBAS</span> <span class="w" style="width:76.3px;transform:scaleX(0.879)">LANUS</span></div>
<div class="c n" style="left:1961.2px;width:194.8px"><span class="w" style="width:62.2px;transform:scaleX(0.987)">4.464</span></div>
<div class="c n" style="left:2171.6px;width:137.8px"><span class="w ds" style="width:14px;transform:scaleX(1.659)">-</span></div>
<div class="c n" style="left:2345.2px;width:142.6px"><span class="w ds" style="width:14px;transform:scaleX(1.659)">-</span></div>
</div>
<div class="r" style="top:1235.8px">
<div class="c" style="left:14.8px;width:175.6px"><span class="w" style="width:57.3px;transform:scaleX(0.909)">Agua</span></div>
<div class="c" style="left:205.2px;width:286.8px"><span class="w" style="width:145.7px;transform:scaleX(0.955)">2-Transporte</span> <span class="w" style="width:28.2px;transform:scaleX(0.958)">de</span> <span class="w" style="width:57.3px;transform:scaleX(0.909)">Agua</span></div>
<div class="c" style="left:506.8px;width:210px"><span class="w" style="width:118.5px;transform:scaleX(0.891)">Estaciones</span> <span class="w" style="width:122.8px;transform:scaleX(0.913)">Elevadoras</span></div>
<div class="c m" style="left:718px;width:174px"><span class="w" style="width:96.2px;transform:scaleX(0.982)">2254006</span></div>
<div class="c ov" style="left:900px;width:1061.2px"><span class="w" style="width:101.7px;transform:scaleX(0.908)">BOMBAS</span> <span class="w" style="width:58.2px;transform:scaleX(0.848)">OTEE</span></div>
<div class="c n" style="left:1961.2px;width:194.8px"><span class="w" style="width:62.2px;transform:scaleX(0.987)">4.459</span></div>
<div class="c n" style="left:2171.6px;width:137.8px"><span class="w ds" style="width:14px;transform:scaleX(1.659)">-</span></div>
<div class="c n" style="left:2345.2px;width:142.6px"><span class="w ds" style="width:14px;transform:scaleX(1.659)">-</span></div>
</div>
<div class="r" style="top:1272.42px">
<div class="c" style="left:14.8px;width:175.6px"><span class="w" style="width:57.3px;transform:scaleX(0.909)">Agua</span></div>
<div class="c" style="left:205.2px;width:286.8px"><span class="w" style="width:145.7px;transform:scaleX(0.955)">2-Transporte</span> <span class="w" style="width:28.2px;transform:scaleX(0.958)">de</span> <span class="w" style="width:57.3px;transform:scaleX(0.909)">Agua</span></div>
<div class="c" style="left:506.8px;width:210px"><span class="w" style="width:118.5px;transform:scaleX(0.891)">Estaciones</span> <span class="w" style="width:122.8px;transform:scaleX(0.913)">Elevadoras</span></div>
<div class="c m" style="left:718px;width:174px"><span class="w" style="width:96.2px;transform:scaleX(0.982)">2254013</span></div>
<div class="c ov" style="left:900px;width:1061.2px"><span class="w" style="width:99.7px;transform:scaleX(0.890)">SISTEMA</span> <span class="w" style="width:30.3px;transform:scaleX(0.866)">DE</span> <span class="w" style="width:28.7px;transform:scaleX(0.787)">CC</span> <span class="w" style="width:42px;transform:scaleX(1.035)">MO</span></div>
<div class="c n" style="left:1961.2px;width:194.8px"><span class="w" style="width:76px;transform:scaleX(0.986)">42.432</span></div>
<div class="c n" style="left:2171.6px;width:137.8px"><span class="w ds" style="width:14px;transform:scaleX(1.659)">-</span></div>
<div class="c n" style="left:2345.2px;width:142.6px"><span class="w ds" style="width:14px;transform:scaleX(1.659)">-</span></div>
</div>
<div class="r" style="top:1309.04px">
<div class="c" style="left:14.8px;width:175.6px"><span class="w" style="width:57.3px;transform:scaleX(0.909)">Agua</span></div>
<div class="c" style="left:205.2px;width:286.8px"><span class="w" style="width:145.7px;transform:scaleX(0.955)">2-Transporte</span> <span class="w" style="width:28.2px;transform:scaleX(0.958)">de</span> <span class="w" style="width:57.3px;transform:scaleX(0.909)">Agua</span></div>
<div class="c" style="left:506.8px;width:210px"><span class="w" style="width:118.5px;transform:scaleX(0.891)">Estaciones</span> <span class="w" style="width:122.8px;transform:scaleX(0.913)">Elevadoras</span></div>
<div class="c m" style="left:718px;width:174px"><span class="w" style="width:96.2px;transform:scaleX(0.982)">2259801</span></div>
<div class="c ov" style="left:900px;width:1061.2px"><span class="w" style="width:26.5px;transform:scaleX(0.787)">EE</span> <span class="w" style="width:25.9px;transform:scaleX(0.840)">TF</span> <span class="w ds" style="width:14px;transform:scaleX(1.659)">-</span> <span class="w" style="width:73px;transform:scaleX(0.840)">ELECT.</span> <span class="w ds" style="width:14px;transform:scaleX(1.659)">-</span> <span class="w" style="width:84.5px;transform:scaleX(0.875)">REHAB.</span> <span class="w" style="width:174.2px;transform:scaleX(0.902)">REACONDICIO..</span> <span class="w" style="width:127.6px;transform:scaleX(0.911)">PROVISIÓN</span> <span class="w" style="width:30.3px;transform:scaleX(0.866)">DE</span> <span class="w" style="width:171.8px;transform:scaleX(0.864)">COMPRESORES</span> <span class="w" style="width:113.2px;transform:scaleX(0.985)">(2259801)</span></div>
<div class="c n" style="left:1961.2px;width:169.4px"><span class="w ds" style="width:14px;transform:scaleX(1.659)">-</span></div>
<div class="c n" style="left:2171.6px;width:159.2px"><span class="w" style="width:89.7px;transform:scaleX(0.985)">254.382</span></div>
<div class="c n" style="left:2345.2px;width:166.8px"><span class="w" style="width:76px;transform:scaleX(0.986)">70.000</span></div>
</div>
<div class="r" style="top:1345.66px">
<div class="c" style="left:14.8px;width:175.6px"><span class="w" style="width:57.3px;transform:scaleX(0.909)">Agua</span></div>
<div class="c" style="left:205.2px;width:286.8px"><span class="w" style="width:145.7px;transform:scaleX(0.955)">2-Transporte</span> <span class="w" style="width:28.2px;transform:scaleX(0.958)">de</span> <span class="w" style="width:57.3px;transform:scaleX(0.909)">Agua</span></div>
<div class="c" style="left:506.8px;width:210px"><span class="w" style="width:118.5px;transform:scaleX(0.891)">Estaciones</span> <span class="w" style="width:122.8px;transform:scaleX(0.913)">Elevadoras</span></div>
<div class="c m" style="left:718px;width:174px"><span class="w" style="width:96.2px;transform:scaleX(0.982)">2369303</span></div>
<div class="c ov" style="left:900px;width:1061.2px"><span class="w" style="width:41px;transform:scaleX(0.860)">E.E.</span> <span class="w" style="width:173px;transform:scaleX(0.902)">CONSTITUCION</span> <span class="w" style="width:190.9px;transform:scaleX(0.893)">REHABILITACION</span> <span class="w" style="width:336.1px;transform:scaleX(0.906)">ELECTROMECANICA(2369303)</span></div>
<div class="c n" style="left:1961.2px;width:194.8px"><span class="w" style="width:89.7px;transform:scaleX(0.985)">315.846</span></div>
<div class="c n" style="left:2171.6px;width:137.8px"><span class="w ds" style="width:14px;transform:scaleX(1.659)">-</span></div>
<div class="c n" style="left:2345.2px;width:142.6px"><span class="w ds" style="width:14px;transform:scaleX(1.659)">-</span></div>
</div>
<div class="r" style="top:1382.28px">
<div class="c" style="left:14.8px;width:175.6px"><span class="w" style="width:57.3px;transform:scaleX(0.909)">Agua</span></div>
<div class="c" style="left:205.2px;width:286.8px"><span class="w" style="width:145.7px;transform:scaleX(0.955)">2-Transporte</span> <span class="w" style="width:28.2px;transform:scaleX(0.958)">de</span> <span class="w" style="width:57.3px;transform:scaleX(0.909)">Agua</span></div>
<div class="c" style="left:506.8px;width:210px"><span class="w" style="width:118.5px;transform:scaleX(0.891)">Estaciones</span> <span class="w" style="width:122.8px;transform:scaleX(0.913)">Elevadoras</span></div>
<div class="c m" style="left:718px;width:174px"><span class="w" style="width:96.2px;transform:scaleX(0.982)">2369306</span></div>
<div class="c ov" style="left:900px;width:1061.2px"><span class="w" style="width:33.7px;transform:scaleX(0.830)">E.E</span> <span class="w" style="width:62.6px;transform:scaleX(0.860)">VILLA</span> <span class="w" style="width:99.8px;transform:scaleX(0.891)">ADELINA</span> <span class="w" style="width:190.9px;transform:scaleX(0.893)">REHABILITACION</span> <span class="w" style="width:336.1px;transform:scaleX(0.906)">ELECTROMECANICA(2369306)</span></div>
<div class="c n" style="left:1961.2px;width:194.8px"><span class="w" style="width:76px;transform:scaleX(0.986)">92.952</span></div>
<div class="c n" style="left:2171.6px;width:137.8px"><span class="w ds" style="width:14px;transform:scaleX(1.659)">-</span></div>
<div class="c n" style="left:2345.2px;width:142.6px"><span class="w ds" style="width:14px;transform:scaleX(1.659)">-</span></div>
</div>
<div class="r" style="top:1418.9px">
<div class="c" style="left:14.8px;width:175.6px"><span class="w" style="width:57.3px;transform:scaleX(0.909)">Agua</span></div>
<div class="c" style="left:205.2px;width:286.8px"><span class="w" style="width:145.7px;transform:scaleX(0.955)">2-Transporte</span> <span class="w" style="width:28.2px;transform:scaleX(0.958)">de</span> <span class="w" style="width:57.3px;transform:scaleX(0.909)">Agua</span></div>
<div class="c" style="left:506.8px;width:210px"><span class="w" style="width:118.5px;transform:scaleX(0.891)">Estaciones</span> <span class="w" style="width:122.8px;transform:scaleX(0.913)">Elevadoras</span></div>
<div class="c m" style="left:718px;width:174px"><span class="w" style="width:96.2px;transform:scaleX(0.982)">2469301</span></div>
<div class="c ov" style="left:900px;width:1061.2px"><span class="w" style="width:33.7px;transform:scaleX(0.830)">E.E</span> <span class="w" style="width:124.4px;transform:scaleX(0.857)">CABALLITO</span> <span class="w" style="width:190.9px;transform:scaleX(0.893)">REHABILITACION</span> <span class="w" style="width:336.1px;transform:scaleX(0.906)">ELECTROMECANICA(2469301)</span></div>
<div class="c n" style="left:1961.2px;width:194.8px"><span class="w" style="width:62.2px;transform:scaleX(0.987)">5.177</span></div>
<div class="c n" style="left:2171.6px;width:137.8px"><span class="w ds" style="width:14px;transform:scaleX(1.659)">-</span></div>
<div class="c n" style="left:2345.2px;width:142.6px"><span class="w ds" style="width:14px;transform:scaleX(1.659)">-</span></div>
</div>
<div class="r" style="top:1455.52px">
<div class="c" style="left:14.8px;width:175.6px"><span class="w" style="width:57.3px;transform:scaleX(0.909)">Agua</span></div>
<div class="c" style="left:205.2px;width:286.8px"><span class="w" style="width:145.7px;transform:scaleX(0.955)">2-Transporte</span> <span class="w" style="width:28.2px;transform:scaleX(0.958)">de</span> <span class="w" style="width:57.3px;transform:scaleX(0.909)">Agua</span></div>
<div class="c" style="left:506.8px;width:210px"><span class="w" style="width:118.5px;transform:scaleX(0.891)">Estaciones</span> <span class="w" style="width:122.8px;transform:scaleX(0.913)">Elevadoras</span></div>
<div class="c m" style="left:718px;width:174px"><span class="w" style="width:96.2px;transform:scaleX(0.982)">2469302</span></div>
<div class="c ov" style="left:900px;width:1061.2px"><span class="w" style="width:41px;transform:scaleX(0.860)">E.E.</span> <span class="w" style="width:96.4px;transform:scaleX(0.910)">DEVOTO</span> <span class="w" style="width:190.9px;transform:scaleX(0.893)">REHABILITACION</span> <span class="w" style="width:222.9px;transform:scaleX(0.870)">ELECTROMECANICA</span> <span class="w" style="width:113.2px;transform:scaleX(0.985)">(2469302)</span></div>
<div class="c n" style="left:1961.2px;width:194.8px"><span class="w" style="width:76px;transform:scaleX(0.986)">30.540</span></div>
<div class="c n" style="left:2171.6px;width:137.8px"><span class="w ds" style="width:14px;transform:scaleX(1.659)">-</span></div>
<div class="c n" style="left:2345.2px;width:142.6px"><span class="w ds" style="width:14px;transform:scaleX(1.659)">-</span></div>
</div>
<div class="r" style="top:1492.14px">
<div class="c" style="left:14.8px;width:175.6px"><span class="w" style="width:57.3px;transform:scaleX(0.909)">Agua</span></div>
<div class="c" style="left:205.2px;width:286.8px"><span class="w" style="width:145.7px;transform:scaleX(0.955)">2-Transporte</span> <span class="w" style="width:28.2px;transform:scaleX(0.958)">de</span> <span class="w" style="width:57.3px;transform:scaleX(0.909)">Agua</span></div>
<div class="c" style="left:506.8px;width:210px"><span class="w" style="width:118.5px;transform:scaleX(0.891)">Estaciones</span> <span class="w" style="width:122.8px;transform:scaleX(0.913)">Elevadoras</span></div>
<div class="c m" style="left:718px;width:174px"><span class="w" style="width:96.2px;transform:scaleX(0.982)">2469305</span></div>
<div class="c ov" style="left:900px;width:1061.2px"><span class="w" style="width:33.7px;transform:scaleX(0.830)">E.E</span> <span class="w" style="width:27.9px;transform:scaleX(0.830)">LA</span> <span class="w" style="width:117.3px;transform:scaleX(0.971)">MATANZA</span> <span class="w" style="width:190.9px;transform:scaleX(0.893)">REHABILITACION</span> <span class="w" style="width:222.9px;transform:scaleX(0.870)">ELECTROMECANICA</span> <span class="w" style="width:113.2px;transform:scaleX(0.985)">(2469305)</span></div>
<div class="c n" style="left:1961.2px;width:194.8px"><span class="w" style="width:62.2px;transform:scaleX(0.987)">4.312</span></div>
<div class="c n" style="left:2171.6px;width:137.8px"><span class="w ds" style="width:14px;transform:scaleX(1.659)">-</span></div>
<div class="c n" style="left:2345.2px;width:142.6px"><span class="w ds" style="width:14px;transform:scaleX(1.659)">-</span></div>
</div>
<div class="r" style="top:1528.76px">
<div class="c" style="left:14.8px;width:175.6px"><span class="w" style="width:57.3px;transform:scaleX(0.909)">Agua</span></div>
<div class="c" style="left:205.2px;width:286.8px"><span class="w" style="width:145.7px;transform:scaleX(0.955)">2-Transporte</span> <span class="w" style="width:28.2px;transform:scaleX(0.958)">de</span> <span class="w" style="width:57.3px;transform:scaleX(0.909)">Agua</span></div>
<div class="c" style="left:506.8px;width:210px"><span class="w" style="width:118.5px;transform:scaleX(0.891)">Estaciones</span> <span class="w" style="width:122.8px;transform:scaleX(0.913)">Elevadoras</span></div>
<div class="c m" style="left:718px;width:174px"><span class="w" style="width:96.2px;transform:scaleX(0.982)">2469306</span></div>
<div class="c ov" style="left:900px;width:1061.2px"><span class="w" style="width:33.7px;transform:scaleX(0.830)">E.E</span> <span class="w" style="width:62.6px;transform:scaleX(0.860)">VILLA</span> <span class="w" style="width:99.8px;transform:scaleX(0.891)">ADELINA</span> <span class="w" style="width:190.9px;transform:scaleX(0.893)">REHABILITACION</span> <span class="w" style="width:222.9px;transform:scaleX(0.870)">ELECTROMECANICA</span> <span class="w" style="width:113.2px;transform:scaleX(0.985)">(2469306)</span></div>
<div class="c n" style="left:1961.2px;width:194.8px"><span class="w" style="width:76px;transform:scaleX(0.986)">16.590</span></div>
<div class="c n" style="left:2171.6px;width:137.8px"><span class="w ds" style="width:14px;transform:scaleX(1.659)">-</span></div>
<div class="c n" style="left:2345.2px;width:142.6px"><span class="w ds" style="width:14px;transform:scaleX(1.659)">-</span></div>
</div>
<div class="r" style="top:1565.38px">
<div class="c" style="left:14.8px;width:175.6px"><span class="w" style="width:57.3px;transform:scaleX(0.909)">Agua</span></div>
<div class="c" style="left:205.2px;width:286.8px"><span class="w" style="width:145.7px;transform:scaleX(0.955)">2-Transporte</span> <span class="w" style="width:28.2px;transform:scaleX(0.958)">de</span> <span class="w" style="width:57.3px;transform:scaleX(0.909)">Agua</span></div>
<div class="c" style="left:506.8px;width:210px"><span class="w" style="width:118.5px;transform:scaleX(0.891)">Estaciones</span> <span class="w" style="width:122.8px;transform:scaleX(0.913)">Elevadoras</span></div>
<div class="c m" style="left:718px;width:174px"><span class="w" style="width:96.2px;transform:scaleX(0.982)">2469307</span></div>
<div class="c ov" style="left:900px;width:1061.2px"><span class="w" style="width:41px;transform:scaleX(0.860)">E.E.</span> <span class="w" style="width:76.3px;transform:scaleX(0.879)">LANUS</span> <span class="w" style="width:190.9px;transform:scaleX(0.893)">REHABILITACION</span> <span class="w" style="width:222.9px;transform:scaleX(0.870)">ELECTROMECANICA</span> <span class="w" style="width:113.2px;transform:scaleX(0.985)">(2469307)</span></div>
<div class="c n" style="left:1961.2px;width:194.8px"><span class="w" style="width:76px;transform:scaleX(1.004)">11.352</span></div>
<div class="c n" style="left:2171.6px;width:137.8px"><span class="w ds" style="width:14px;transform:scaleX(1.659)">-</span></div>
<div class="c n" style="left:2345.2px;width:142.6px"><span class="w ds" style="width:14px;transform:scaleX(1.659)">-</span></div>
</div>
<div class="r" style="top:1602px">
<div class="c" style="left:14.8px;width:175.6px"><span class="w" style="width:57.3px;transform:scaleX(0.909)">Agua</span></div>
<div class="c" style="left:205.2px;width:286.8px"><span class="w" style="width:145.7px;transform:scaleX(0.955)">2-Transporte</span> <span class="w" style="width:28.2px;transform:scaleX(0.958)">de</span> <span class="w" style="width:57.3px;transform:scaleX(0.909)">Agua</span></div>
<div class="c" style="left:506.8px;width:210px"><span class="w" style="width:118.5px;transform:scaleX(0.891)">Estaciones</span> <span class="w" style="width:122.8px;transform:scaleX(0.913)">Elevadoras</span></div>
<div class="c m" style="left:718px;width:174px"><span class="w" style="width:96.2px;transform:scaleX(0.982)">2469308</span></div>
<div class="c ov" style="left:900px;width:1061.2px"><span class="w" style="width:41px;transform:scaleX(0.860)">E.E.</span> <span class="w" style="width:113.4px;transform:scaleX(0.847)">FLORESTA</span> <span class="w" style="width:190.9px;transform:scaleX(0.893)">REHABILITACION</span> <span class="w" style="width:336.1px;transform:scaleX(0.906)">ELECTROMECANICA(2469308)</span></div>
<div class="c n" style="left:1961.2px;width:194.8px"><span class="w" style="width:41.2px;transform:scaleX(0.981)">719</span></div>
<div class="c n" style="left:2171.6px;width:137.8px"><span class="w ds" style="width:14px;transform:scaleX(1.659)">-</span></div>
<div class="c n" style="left:2345.2px;width:142.6px"><span class="w ds" style="width:14px;transform:scaleX(1.659)">-</span></div>
</div>
<div class="r" style="top:1638.62px">
<div class="c" style="left:14.8px;width:175.6px"><span class="w" style="width:57.3px;transform:scaleX(0.909)">Agua</span></div>
<div class="c" style="left:205.2px;width:286.8px"><span class="w" style="width:145.7px;transform:scaleX(0.955)">2-Transporte</span> <span class="w" style="width:28.2px;transform:scaleX(0.958)">de</span> <span class="w" style="width:57.3px;transform:scaleX(0.909)">Agua</span></div>
<div class="c" style="left:506.8px;width:210px"><span class="w" style="width:118.5px;transform:scaleX(0.891)">Estaciones</span> <span class="w" style="width:122.8px;transform:scaleX(0.913)">Elevadoras</span></div>
<div class="c m" style="left:718px;width:174px"><span class="w" style="width:96.2px;transform:scaleX(0.982)">2469309</span></div>
<div class="c ov" style="left:900px;width:1061.2px"><span class="w" style="width:41px;transform:scaleX(0.860)">E.E.</span> <span class="w" style="width:123.7px;transform:scaleX(0.887)">SAAVEDRA</span> <span class="w" style="width:190.9px;transform:scaleX(0.893)">REHABILITACION</span> <span class="w" style="width:222.9px;transform:scaleX(0.870)">ELECTROMECANICA</span> <span class="w" style="width:113.2px;transform:scaleX(0.985)">(2469309)</span></div>
<div class="c n" style="left:1961.2px;width:194.8px"><span class="w" style="width:62.2px;transform:scaleX(0.987)">8.423</span></div>
<div class="c n" style="left:2171.6px;width:137.8px"><span class="w ds" style="width:14px;transform:scaleX(1.659)">-</span></div>
<div class="c n" style="left:2345.2px;width:142.6px"><span class="w ds" style="width:14px;transform:scaleX(1.659)">-</span></div>
</div>
<div class="r" style="top:1675.24px">
<div class="c" style="left:14.8px;width:175.6px"><span class="w" style="width:57.3px;transform:scaleX(0.909)">Agua</span></div>
<div class="c" style="left:205.2px;width:286.8px"><span class="w" style="width:145.7px;transform:scaleX(0.955)">2-Transporte</span> <span class="w" style="width:28.2px;transform:scaleX(0.958)">de</span> <span class="w" style="width:57.3px;transform:scaleX(0.909)">Agua</span></div>
<div class="c" style="left:506.8px;width:210px"><span class="w" style="width:118.5px;transform:scaleX(0.891)">Estaciones</span> <span class="w" style="width:122.8px;transform:scaleX(0.913)">Elevadoras</span></div>
<div class="c m" style="left:718px;width:174px"><span class="w" style="width:96.2px;transform:scaleX(0.982)">2469310</span></div>
<div class="c ov" style="left:900px;width:1061.2px"><span class="w" style="width:41px;transform:scaleX(0.860)">E.E.</span> <span class="w" style="width:104.8px;transform:scaleX(0.913)">QUILMES</span> <span class="w" style="width:190.9px;transform:scaleX(0.893)">REHABILITACION</span> <span class="w" style="width:222.9px;transform:scaleX(0.870)">ELECTROMECANICA</span> <span class="w" style="width:113.2px;transform:scaleX(0.985)">(2469310)</span></div>
<div class="c n" style="left:1961.2px;width:194.8px"><span class="w" style="width:76px;transform:scaleX(0.986)">16.248</span></div>
<div class="c n" style="left:2171.6px;width:137.8px"><span class="w ds" style="width:14px;transform:scaleX(1.659)">-</span></div>
<div class="c n" style="left:2345.2px;width:142.6px"><span class="w ds" style="width:14px;transform:scaleX(1.659)">-</span></div>
</div>
<div class="r" style="top:1711.86px">
<div class="c" style="left:14.8px;width:175.6px"><span class="w" style="width:57.3px;transform:scaleX(0.909)">Agua</span></div>
<div class="c" style="left:205.2px;width:286.8px"><span class="w" style="width:145.7px;transform:scaleX(0.955)">2-Transporte</span> <span class="w" style="width:28.2px;transform:scaleX(0.958)">de</span> <span class="w" style="width:57.3px;transform:scaleX(0.909)">Agua</span></div>
<div class="c" style="left:506.8px;width:210px"><span class="w" style="width:118.5px;transform:scaleX(0.891)">Estaciones</span> <span class="w" style="width:122.8px;transform:scaleX(0.913)">Elevadoras</span></div>
<div class="c m" style="left:718px;width:174px"><span class="w" style="width:96.2px;transform:scaleX(0.995)">2469311</span></div>
<div class="c ov" style="left:900px;width:1061.2px"><span class="w" style="width:41px;transform:scaleX(0.860)">E.E.</span> <span class="w" style="width:54.8px;transform:scaleX(0.815)">TRES</span> <span class="w" style="width:30.3px;transform:scaleX(0.866)">DE</span> <span class="w" style="width:103px;transform:scaleX(0.836)">FEBRERO</span> <span class="w" style="width:190.9px;transform:scaleX(0.893)">REHABILITACION</span> <span class="w" style="width:222.9px;transform:scaleX(0.870)">ELECTROMECANICA</span> <span class="w" style="width:113.2px;transform:scaleX(0.997)">(2469311)</span></div>
<div class="c n" style="left:1961.2px;width:194.8px"><span class="w" style="width:62.2px;transform:scaleX(0.987)">2.326</span></div>
<div class="c n" style="left:2171.6px;width:137.8px"><span class="w ds" style="width:14px;transform:scaleX(1.659)">-</span></div>
<div class="c n" style="left:2345.2px;width:142.6px"><span class="w ds" style="width:14px;transform:scaleX(1.659)">-</span></div>
</div>
</div></div>
<div class="t">
<div class="hd">
<div class="h" style="left:0px;width:190.4px"><span class="w" style="width:91.3px;transform:scaleX(0.839)">Proceso</span></div>
<div class="h" style="left:190.4px;width:301.6px"><span class="w" style="width:134.4px;transform:scaleX(0.844)">Subproceso</span></div>
<div class="h" style="left:492px;width:226px"><span class="w" style="width:139.6px;transform:scaleX(0.902)">Área/Sector</span></div>
<div class="h" style="left:718px;width:174px"><span class="w" style="width:103px;transform:scaleX(0.873)">Proyecto</span></div>
<div class="h" style="left:892px;width:1069.2px"><span class="w" style="width:134.2px;transform:scaleX(0.850)">Descripción</span></div>
<div class="h" style="left:1961.2px;width:210.4px"><span class="w" style="width:56.4px;transform:scaleX(0.919)">2024</span></div>
<div class="h" style="left:2171.6px;width:173.6px"><span class="w" style="width:56.4px;transform:scaleX(0.919)">2025</span></div>
<div class="h" style="left:2345.2px;width:181.6px"><span class="w" style="width:56.4px;transform:scaleX(0.919)">2026</span></div>
</div>
</div></body></html>
